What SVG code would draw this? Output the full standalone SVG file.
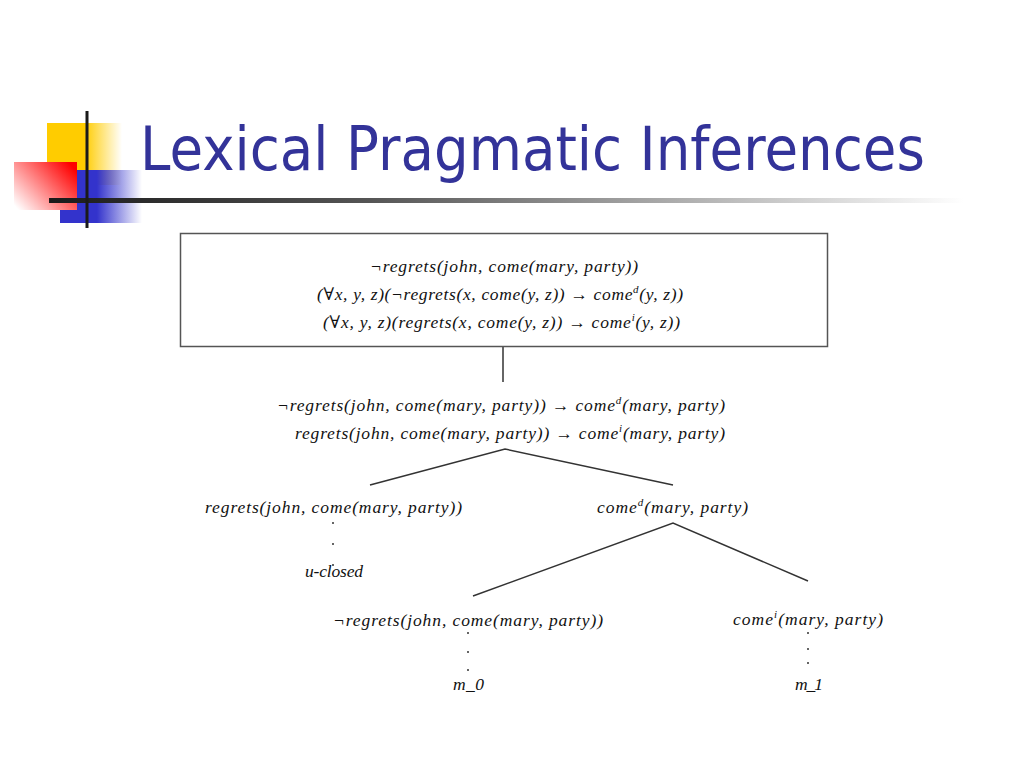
<svg xmlns="http://www.w3.org/2000/svg" width="1024" height="768" viewBox="0 0 1024 768">
<defs>
<linearGradient id="gYel" x1="0" y1="0" x2="1" y2="0">
<stop offset="0" stop-color="#FFCC00"/>
<stop offset="0.5" stop-color="#FFCC00"/>
<stop offset="1" stop-color="#FFCC00" stop-opacity="0"/>
</linearGradient>
<linearGradient id="gBlue" x1="0" y1="0" x2="1" y2="0">
<stop offset="0" stop-color="#3333CC"/>
<stop offset="0.45" stop-color="#3333CC"/>
<stop offset="1" stop-color="#3333CC" stop-opacity="0"/>
</linearGradient>
<linearGradient id="gRed" x1="1" y1="0.2" x2="0" y2="0.9">
<stop offset="0" stop-color="#FF0000"/>
<stop offset="1" stop-color="#FFFFFF"/>
</linearGradient>
<linearGradient id="gLine" x1="0" y1="0" x2="1" y2="0">
<stop offset="0" stop-color="#1a1a1a"/>
<stop offset="0.35" stop-color="#555555"/>
<stop offset="1" stop-color="#ffffff"/>
</linearGradient>
<style>
.m { font-family: "Liberation Serif", "DejaVu Serif", serif; font-style: italic; font-size: 17.5px; fill: #111; }
.sup { font-size: 11px; }
.ln { stroke: #333; stroke-width: 1.5; fill: none; }
.dot { fill: #333; }
</style>
</defs>
<rect width="1024" height="768" fill="#ffffff"/>

<g id="decor">
<rect x="47" y="123" width="75" height="62" fill="url(#gYel)"/>
<rect x="60" y="170" width="82" height="53" fill="url(#gBlue)"/>
<rect x="14" y="162" width="63" height="48" fill="url(#gRed)"/>
<rect x="49" y="198" width="915" height="5" fill="url(#gLine)"/>
<rect x="85.5" y="111" width="3" height="117" fill="#1a1a1a"/>
</g>

<text id="title" x="140" y="170" font-family="Tahoma, 'DejaVu Sans', 'Liberation Sans', sans-serif" font-size="60" fill="#333399" textLength="785" lengthAdjust="spacingAndGlyphs">Lexical Pragmatic Inferences</text>

<g id="connectors">
<line class="ln" x1="503" y1="347" x2="503" y2="382"/>
<polyline class="ln" points="370,485 505,449 673,485"/>
<polyline class="ln" points="473,596 673,523 808,581"/>
</g>

<g id="root">
<rect x="180.5" y="233.5" width="647" height="113" fill="#fff" stroke="#555" stroke-width="1.5"/>
<text class="m" x="370" y="272" textLength="268">¬regrets(john, come(mary, party))</text>
<text class="m" x="317" y="300" textLength="366">(∀x, y, z)(¬regrets(x, come(y, z)) → come<tspan class="sup" dy="-7">d</tspan><tspan dy="7">(y, z))</tspan></text>
<text class="m" x="323" y="328" textLength="357">(∀x, y, z)(regrets(x, come(y, z)) → come<tspan class="sup" dy="-7">i</tspan><tspan dy="7">(y, z))</tspan></text>
</g>

<g id="mid">
<text class="m" x="277" y="411" textLength="448">¬regrets(john, come(mary, party)) → come<tspan class="sup" dy="-7">d</tspan><tspan dy="7">(mary, party)</tspan></text>
<text class="m" x="295" y="439" textLength="430">regrets(john, come(mary, party)) → come<tspan class="sup" dy="-7">i</tspan><tspan dy="7">(mary, party)</tspan></text>
</g>

<g id="left">
<text class="m" x="205" y="513" textLength="257">regrets(john, come(mary, party))</text>
<circle class="dot" cx="333" cy="523" r="1"/>
<circle class="dot" cx="333" cy="544" r="1"/>
<circle class="dot" cx="333" cy="565" r="1"/>
<text class="m" x="305" y="577" textLength="58">u-closed</text>
</g>

<g id="comed">
<text class="m" x="597" y="513" textLength="151">come<tspan class="sup" dy="-7">d</tspan><tspan dy="7">(mary, party)</tspan></text>
</g>

<g id="neg">
<text class="m" x="333" y="626" textLength="270">¬regrets(john, come(mary, party))</text>
<circle class="dot" cx="468" cy="633" r="1"/>
<circle class="dot" cx="468" cy="652" r="1"/>
<circle class="dot" cx="468" cy="670" r="1"/>
<text class="m" x="453" y="690" textLength="31">m_0</text>
</g>

<g id="comei">
<text class="m" x="733" y="625" textLength="150">come<tspan class="sup" dy="-7">i</tspan><tspan dy="7">(mary, party)</tspan></text>
<circle class="dot" cx="808" cy="633" r="1"/>
<circle class="dot" cx="808" cy="649" r="1"/>
<circle class="dot" cx="808" cy="663" r="1"/>
<text class="m" x="795" y="690" textLength="28">m_1</text>
</g>
</svg>
